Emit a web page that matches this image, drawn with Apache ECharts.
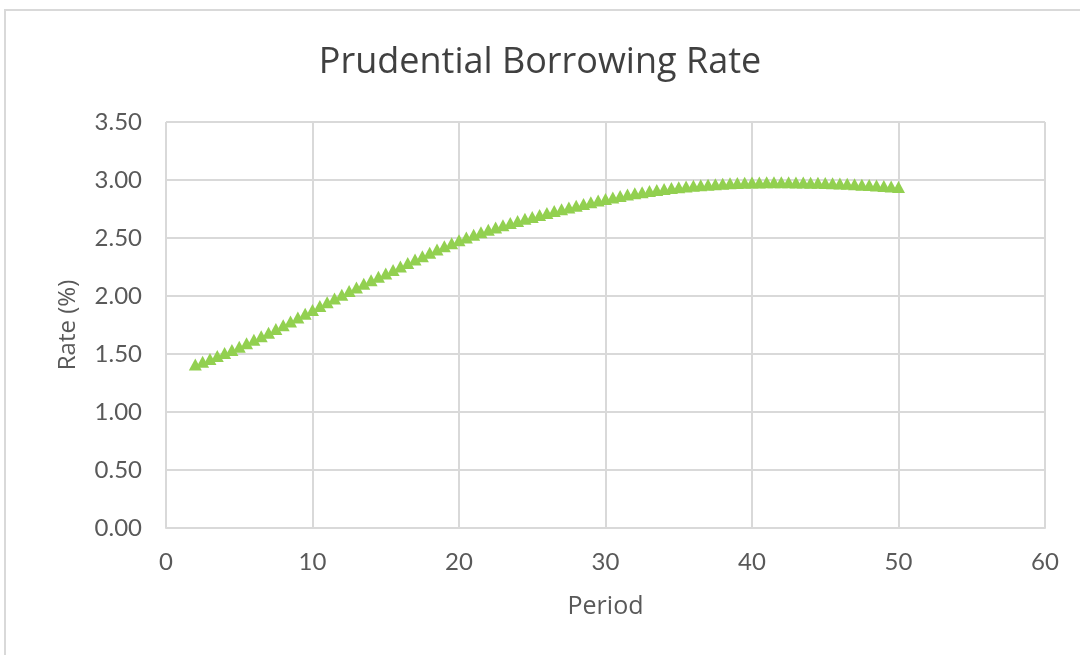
<!DOCTYPE html>
<html>
<head>
<meta charset="utf-8">
<title>Prudential Borrowing Rate</title>
<script src="https://cdn.jsdelivr.net/npm/echarts@6/dist/echarts.min.js"></script>
<style>
  html, body { margin: 0; padding: 0; background: #ffffff; }
  #chart { width: 1080px; height: 655px; }
</style>
</head>
<body>
<div id="chart"></div>
<script>
// Period (x) for each plotted point
const periods = [
  2, 2.5, 3, 3.5, 4, 4.5, 5, 5.5, 6, 6.5, 7, 7.5, 8, 8.5, 9, 9.5,
  10, 10.5, 11, 11.5, 12, 12.5, 13, 13.5, 14, 14.5, 15, 15.5, 16, 16.5, 17, 17.5,
  18, 18.5, 19, 19.5, 20, 20.5, 21, 21.5, 22, 22.5, 23, 23.5, 24, 24.5, 25, 25.5,
  26, 26.5, 27, 27.5, 28, 28.5, 29, 29.5, 30, 30.5, 31, 31.5, 32, 32.5, 33, 33.5,
  34, 34.5, 35, 35.5, 36, 36.5, 37, 37.5, 38, 38.5, 39, 39.5, 40, 40.5, 41, 41.5,
  42, 42.5, 43, 43.5, 44, 44.5, 45, 45.5, 46, 46.5, 47, 47.5, 48, 48.5, 49, 49.5, 50
];

// Rate (%) at each period
const rates = [
  1.410, 1.433, 1.457, 1.482, 1.508, 1.535, 1.563, 1.592, 1.622, 1.653, 1.684, 1.716, 1.748, 1.781, 1.814, 1.847,
  1.880, 1.913, 1.946, 1.979, 2.011, 2.043, 2.074, 2.105, 2.135, 2.165, 2.194, 2.224, 2.254, 2.284, 2.314, 2.343,
  2.372, 2.400, 2.428, 2.455, 2.481, 2.505, 2.528, 2.550, 2.571, 2.591, 2.610, 2.629, 2.647, 2.665, 2.682, 2.699,
  2.716, 2.732, 2.748, 2.764, 2.779, 2.794, 2.809, 2.823, 2.837, 2.850, 2.862, 2.874, 2.885, 2.895, 2.905, 2.914,
  2.922, 2.930, 2.937, 2.944, 2.950, 2.955, 2.960, 2.964, 2.968, 2.971, 2.974, 2.976, 2.978, 2.979, 2.980, 2.980,
  2.980, 2.980, 2.979, 2.978, 2.977, 2.976, 2.975, 2.973, 2.970, 2.967, 2.964, 2.960, 2.956, 2.952, 2.948, 2.944, 2.940
];

const chartTitle = 'Prudential Borrowing Rate';
const xAxisName = 'Period';
const yAxisName = 'Rate (%)';

const TICK_FONT = 'Lato, "Open Sans", sans-serif';
const LABEL_FONT = '"Open Sans", Lato, sans-serif';
const TEXT_COLOR = '#595959';
const GRID_COLOR = '#d9d9d9';

const points = periods.map((p, i) => [p, rates[i]]);

const chart = echarts.init(document.getElementById('chart'), null, { renderer: 'canvas' });

chart.setOption({
  backgroundColor: '#ffffff',
  animation: false,
  title: {
    text: chartTitle,
    left: 'center',
    top: 40,
    textStyle: {
      fontFamily: LABEL_FONT,
      fontSize: 36,
      fontWeight: 'normal',
      color: '#404040'
    }
  },
  graphic: [{
    type: 'rect',
    shape: { x: 5, y: 10, width: 1100, height: 700 },
    style: { fill: 'none', stroke: GRID_COLOR, lineWidth: 2 },
    silent: true,
    z: -1
  }],
  grid: {
    left: 166,
    right: 35,
    top: 122,
    bottom: 127,
    containLabel: false
  },
  xAxis: {
    type: 'value',
    min: 0,
    max: 60,
    interval: 10,
    name: xAxisName,
    nameLocation: 'middle',
    nameGap: 66,
    nameTextStyle: { fontFamily: LABEL_FONT, fontSize: 25, color: TEXT_COLOR },
    axisLine: { show: true, lineStyle: { color: GRID_COLOR, width: 2 } },
    axisTick: { show: false },
    axisLabel: {
      fontFamily: TICK_FONT,
      fontSize: 24,
      color: TEXT_COLOR,
      margin: 22
    },
    splitLine: { show: true, lineStyle: { color: GRID_COLOR, width: 2 } }
  },
  yAxis: {
    type: 'value',
    min: 0,
    max: 3.5,
    interval: 0.5,
    name: yAxisName,
    nameLocation: 'middle',
    nameGap: 86,
    nameRotate: 90,
    nameTextStyle: { fontFamily: LABEL_FONT, fontSize: 24, color: TEXT_COLOR },
    axisLine: { show: false },
    axisTick: { show: false },
    axisLabel: {
      fontFamily: TICK_FONT,
      fontSize: 24,
      color: TEXT_COLOR,
      margin: 24,
      formatter: v => v.toFixed(2)
    },
    splitLine: { show: true, lineStyle: { color: GRID_COLOR, width: 2 } }
  },
  series: [{
    name: chartTitle,
    type: 'scatter',
    data: points,
    symbol: 'triangle',
    symbolSize: [13, 12],
    itemStyle: { color: '#92D050', opacity: 1 }
  }]
});
</script>
</body>
</html>
